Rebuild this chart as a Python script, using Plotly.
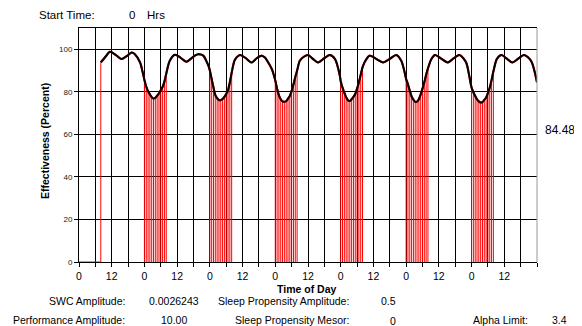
import plotly.graph_objects as go

# ---------------- data ----------------
# Effectiveness curve during wake periods (hours since start, percent)
wake_hours = [8.0, 9.7, 11.4, 13.5, 15.6, 17.5, 19.3, 20.5, 22.4, 23.3,
              33.3, 35.2, 37.3, 39.4, 41.0, 42.5, 43.8, 45.6, 46.7, 47.5,
              57.0, 57.8, 59.1, 61.2, 63.3, 65.2, 67.0, 68.3, 69.4, 70.8,
              81.0, 82.5, 84.0, 85.8, 87.7, 90.0, 92.0, 93.9, 95.7,
              105.0, 106.6, 109.0, 111.5, 114.0, 116.4, 118.2, 119.2,
              129.3, 130.6, 133.0, 135.3, 137.5, 139.6, 142.0, 143.0,
              153.3, 155.0, 157.0, 159.0, 161.0, 163.3, 165.8, 168.0]
wake_eff = [93.8, 96.5, 98.8, 97.3, 95.4, 96.8, 98.5, 97.7, 93.8, 89.5,
            94.6, 97.4, 96.0, 94.1, 95.5, 97.0, 97.7, 97.0, 94.5, 92.2,
            94.5, 96.2, 97.3, 95.8, 93.8, 95.8, 97.0, 96.0, 93.8, 90.5,
            94.6, 96.5, 97.3, 95.5, 93.8, 95.8, 97.3, 95.4, 87.5,
            94.5, 97.0, 95.5, 93.8, 95.5, 97.3, 94.6, 90.5,
            95.5, 97.3, 95.5, 93.8, 95.8, 97.3, 93.8, 88.5,
            95.5, 97.3, 95.5, 93.8, 95.5, 97.3, 94.6, 84.48]

# Sleep periods: start hour, duration, and effectiveness at evenly spaced samples
sleep_start = [24, 48, 72, 96, 120, 144]
sleep_duration = 8
sleep_eff = [
    [85.5, 82.5, 80.3, 78.8, 77.5, 76.8, 77.2, 78.2, 79.3, 80.8, 82.3, 84.8, 88.5],
    [90.0, 86.0, 82.0, 78.5, 77.0, 76.1, 76.1, 76.6, 77.6, 79.0, 80.8, 84.5, 89.0],
    [85.3, 81.5, 78.3, 76.5, 75.5, 75.3, 75.6, 76.8, 78.0, 80.5, 83.5, 87.0, 90.0],
    [85.0, 82.0, 79.5, 77.5, 76.0, 75.7, 76.5, 77.6, 79.0, 81.5, 84.5, 88.0, 91.5],
    [86.0, 83.5, 80.5, 77.8, 76.3, 75.3, 75.4, 76.5, 78.8, 81.5, 84.5, 88.0, 91.0],
    [82.0, 79.8, 78.0, 76.5, 75.5, 75.0, 75.2, 76.2, 77.3, 79.5, 82.0, 85.5, 89.5],
]

x_tick_hours = list(range(0, 169, 6))
day_tick_labels = ["0", "", "12", ""]
y_tick_values = [0, 20, 40, 60, 80, 100]

final_value_text = "84.48"
param_labels_left = ["SWC Amplitude:", "Performance Amplitude:"]
param_values_left = ["0.0026243", "10.00"]
param_labels_mid = ["Sleep Propensity Amplitude:", "Sleep Propensity Mesor:"]
param_values_mid = ["0.5", "0"]
alpha_label, alpha_value = "Alpha Limit:", "3.4"
start_label, start_value, start_unit = "Start Time:", "0", "Hrs"

# ---------------- build series ----------------
sleep_hours_all, sleep_eff_all = [], []
for s, vals in zip(sleep_start, sleep_eff):
    n = len(vals) - 1
    for k, v in enumerate(vals):
        sleep_hours_all.append(s + k * sleep_duration / n)
        sleep_eff_all.append(v)

pts = sorted(zip(wake_hours + sleep_hours_all, wake_eff + sleep_eff_all))
curve_x = [p[0] for p in pts]
curve_y = [p[1] for p in pts]

rx = [0, wake_hours[0], wake_hours[0], None]
ry = [0, 0, wake_eff[0], None]
for t, v in zip(sleep_hours_all, sleep_eff_all):
    rx += [t, t, None]
    ry += [0, v, None]

FONT = "Liberation Sans, Arial, sans-serif"
OFF = 8  # page body margin
W, H = 574, 318
ML, MR, MT, MB = 71, 45, 20, 64
PW, PH = W - ML - MR, H - MT - MB


def paper(x, y):
    """Convert window pixel coordinates to paper coordinates."""
    return (x - OFF - ML) / PW, (H - MB - (y - OFF)) / PH


fig = go.Figure()
fig.add_trace(go.Scatter(x=rx, y=ry, mode="lines",
                         line=dict(color="#ff0000", width=1),
                         cliponaxis=False, hoverinfo="skip", showlegend=False))
fig.add_trace(go.Scatter(x=curve_x, y=curve_y, mode="lines",
                         line=dict(color="#ff0000", width=2.1, shape="spline", smoothing=0.8),
                         hoverinfo="skip", showlegend=False))
fig.add_trace(go.Scatter(x=curve_x, y=curve_y, mode="lines",
                         line=dict(color="#000000", width=2, shape="spline", smoothing=0.8),
                         showlegend=False))

tick_text = []
for t in x_tick_hours:
    tick_text.append(day_tick_labels[(t % 24) // 6] if t < 168 else "")

fig.update_layout(
    width=W, height=H, autosize=False,
    margin=dict(l=ML, r=MR, t=MT, b=MB, pad=0),
    paper_bgcolor="white", plot_bgcolor="white",
    font=dict(family=FONT, color="#000000"),
    xaxis=dict(range=[0, 168], tickmode="array", tickvals=x_tick_hours, ticktext=tick_text,
               showgrid=True, gridcolor="#000000", gridwidth=1, zeroline=False,
               showline=True, linecolor="#000000", linewidth=1, mirror=True,
               ticks="outside", ticklen=4, tickcolor="#000000",
               tickfont=dict(size=10.5, family=FONT, color="#000000"),
               layer="below traces", fixedrange=True),
    yaxis=dict(range=[0, 110], tickmode="array", tickvals=y_tick_values,
               showgrid=True, gridcolor="#000000", gridwidth=1, zeroline=False,
               showline=True, linecolor="#000000", linewidth=1,
               ticks="outside", ticklen=4, tickcolor="#000000",
               tickfont=dict(size=8, family=FONT, color="#222222"),
               layer="below traces", fixedrange=True),
    shapes=[dict(type="line", xref="paper", yref="paper", x0=1, x1=1, y0=0, y1=1,
                 line=dict(color="#999999", width=1))],
)

ann = []


def add_text(text, x, y, size=10.5, xanchor="center", bold=False, angle=0):
    px, py = paper(x, y)
    ann.append(dict(text=f"<b>{text}</b>" if bold else text, x=px, y=py,
                    xref="paper", yref="paper", xanchor=xanchor, yanchor="middle",
                    showarrow=False, textangle=angle,
                    font=dict(size=size, family=FONT, color="#000000")))


add_text("Effectiveness (Percent)", 45, 141, size=10.5, bold=True, angle=-90)
add_text("Time of Day", 306.5, 289, size=10.5, bold=True)
add_text(final_value_text, 560, 130, size=12)
add_text(start_label, 97, 15, size=11.5, xanchor="right")
add_text(start_value, 132, 15, size=11.5)
add_text(start_unit, 145, 15, size=11.5, xanchor="left")

row_y = [301, 320]
for i in range(2):
    add_text(param_labels_left[i], 127, row_y[i], xanchor="right")
    add_text(param_values_left[i], 174, row_y[i])
    add_text(param_labels_mid[i], 351, row_y[i], xanchor="right")
    add_text(param_values_mid[i], 388 + 5 * i, row_y[i] + i)
add_text(alpha_label, 530, 320, xanchor="right")
add_text(alpha_value, 559, 320)

fig.update_layout(annotations=ann)
fig.write_html("out.html")
